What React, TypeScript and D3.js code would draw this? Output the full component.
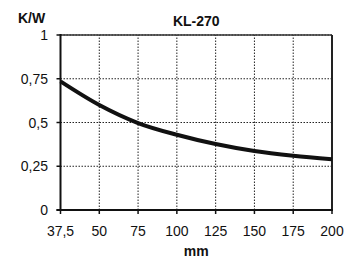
import React from 'react';
import * as d3 from 'd3';

const categories = ['37,5', '50', '75', '100', '125', '150', '175', '200'];
const values = [0.735, 0.6, 0.497, 0.43, 0.377, 0.337, 0.31, 0.29];
const yTicks = [0, 0.25, 0.5, 0.75, 1];
const yTickLabels = ['0', '0,25', '0,5', '0,75', '1'];

const width = 353;
const height = 260;
const margin = { top: 35, right: 21, bottom: 50, left: 60.5 };
const font = 'Liberation Sans, Arial, Helvetica, sans-serif';

const App = () => {
  const x = d3.scalePoint<string>()
    .domain(categories)
    .range([margin.left, width - margin.right]);

  const y = d3.scaleLinear()
    .domain([0, 1])
    .range([height - margin.bottom, margin.top]);

  const line = d3.line<number>()
    .x((d, i) => x(categories[i]) as number)
    .y(d => y(d))
    .curve(d3.curveMonotoneX);

  const x0 = margin.left;
  const x1 = width - margin.right;
  const y0 = height - margin.bottom;
  const y1 = margin.top;

  return (
    <svg width={width} height={height} style={{ position: 'absolute', left: 0, top: 0 }}>
      <rect width={width} height={height} fill="#fff" />
      {/* grid */}
      {categories.slice(1).map(c => (
        <line key={c} x1={x(c)} x2={x(c)} y1={y0} y2={y1}
          stroke="#222" strokeWidth={1} strokeDasharray="1.5 1.5" />
      ))}
      {yTicks.slice(1).map(t => (
        <line key={t} x1={x0} x2={x1} y1={y(t)} y2={y(t)}
          stroke="#222" strokeWidth={1} strokeDasharray="1.5 1.5" />
      ))}
      {/* frame */}
      <line x1={x0} x2={x1} y1={y1} y2={y1} stroke="#333" strokeWidth={1.5} />
      <line x1={x1} x2={x1} y1={y1} y2={y0} stroke="#222" strokeWidth={2} />
      <line x1={x0} x2={x0} y1={y1 - 1} y2={y0} stroke="#111" strokeWidth={2} />
      <line x1={x0 - 4} x2={x1 + 1} y1={y0} y2={y0} stroke="#111" strokeWidth={2} />
      {/* ticks */}
      {categories.map(c => (
        <g key={c}>
          <line x1={x(c)} x2={x(c)} y1={y0} y2={y0 + 4} stroke="#111" strokeWidth={1.5} />
          <text x={x(c)} y={236} textAnchor="middle" fontFamily={font} fontSize={14} fill="#111">{c}</text>
        </g>
      ))}
      {yTicks.map((t, i) => (
        <g key={t}>
          <line x1={x0 - 4} x2={x0} y1={y(t)} y2={y(t)} stroke="#111" strokeWidth={1.5} />
          <text x={48} y={y(t)} dy="0.36em" textAnchor="end" fontFamily={font} fontSize={14} fill="#111">{yTickLabels[i]}</text>
        </g>
      ))}
      {/* curve */}
      <path d={line(values) || ''} fill="none" stroke="#111" strokeWidth={4} />
      {/* labels */}
      <text x={(x0 + x1) / 2} y={26} textAnchor="middle" fontFamily={font} fontSize={14} fontWeight="bold" fill="#111">KL-270</text>
      <text x={18} y={23} fontFamily={font} fontSize={14} fontWeight="bold" fill="#111">K/W</text>
      <text x={(x0 + x1) / 2} y={256} textAnchor="middle" fontFamily={font} fontSize={14} fontWeight="bold" fill="#111">mm</text>
    </svg>
  );
};

export default App;
